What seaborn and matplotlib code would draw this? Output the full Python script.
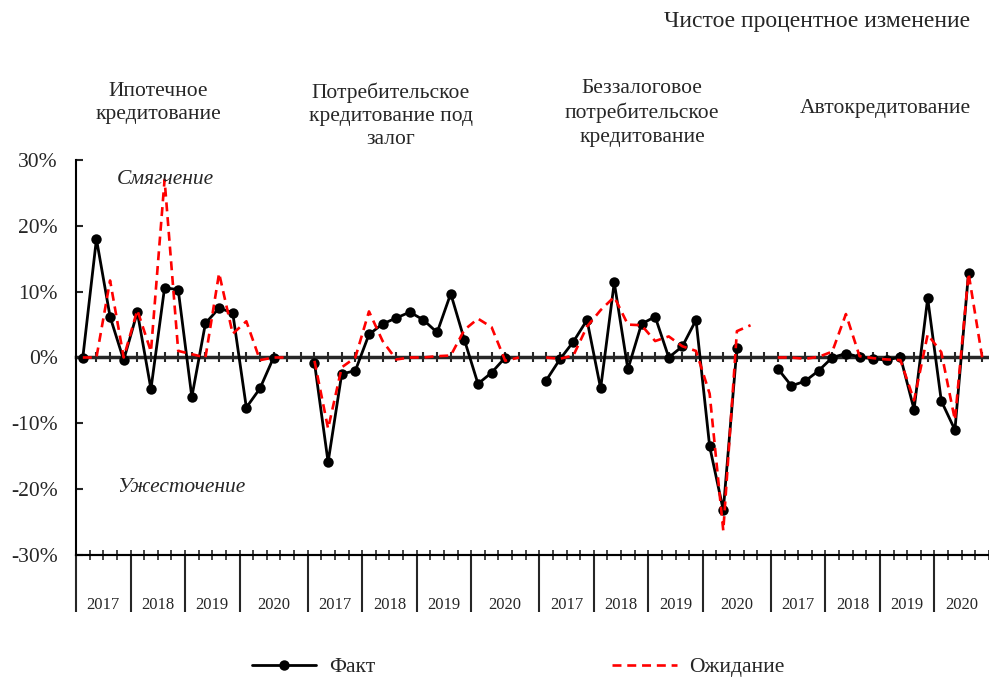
import numpy as np
import matplotlib
matplotlib.use("Agg")
import matplotlib.pyplot as plt
import seaborn as sns

# Заголовки блоков и годы
groups = ["Ипотечное\nкредитование",
          "Потребительское\nкредитование под\nзалог",
          "Беззалоговое\nпотребительское\nкредитование",
          "Автокредитование"]
years = ["2017", "2018", "2019", "2020"]

# Факт: 2017 К1 - 2020 К3, ожидание: 2017 К1 - 2020 К4 (в %)
mortgage_fact = [0, 18, 6.2, -0.4, 6.9, -4.8, 10.6, 10.3, -6.0, 5.2, 7.5, 6.8, -7.6, -4.7, 0]
mortgage_exp = [0, 0, 11.7, 0, 7.2, 0.9, 27, 1.0, 0.5, 0, 12.8, 3.6, 5.5, -0.4, 0, 0]
secured_fact = [-0.8, -15.9, -2.5, -2.0, 3.5, 5.1, 6.0, 6.9, 5.7, 3.8, 9.7, 2.7, -4.0, -2.3, 0]
secured_exp = [-0.5, -10.8, -1.5, 0, 7.0, 2.5, -0.3, 0, 0, 0.2, 0.3, 4.2, 5.9, 4.6, -0.5, 0]
unsecured_fact = [-3.5, -0.3, 2.4, 5.7, -4.7, 11.4, -1.8, 5.1, 6.2, 0, 1.7, 5.7, -13.5, -23.2, 1.4]
unsecured_exp = [0, -0.2, 0.3, 4.7, 7.2, 9.2, 5.0, 4.9, 2.5, 3.2, 1.7, 1.0, -5.5, -26.3, 4.0, 4.9]
auto_fact = [-1.7, -4.3, -3.6, -2.0, 0, 0.6, 0.1, -0.2, -0.4, 0.1, -7.9, 9.0, -6.6, -11.0, 12.9]
auto_exp = [0, 0, -0.2, 0.1, 0.9, 6.6, 0.2, -0.1, -0.3, -0.4, -6.5, 3.5, 0.8, -9.5, 12.8, 0]

fact = [mortgage_fact, secured_fact, unsecured_fact, auto_fact]
expect = [mortgage_exp, secured_exp, unsecured_exp, auto_exp]

sns.set_style("white")
plt.rcParams["font.family"] = ["Liberation Serif", "DejaVu Serif"]
fs = 15.5

W, H = 989, 678
fig = plt.figure(figsize=(W / 100, H / 100), dpi=100)
ax = fig.add_axes([76 / W, 1 - 555 / H, 1 - 76 / W, (555 - 160) / H])

step = 17  # 16 кварталов + пустой промежуток
for g in range(4):
    start = g * step
    sns.lineplot(x=start + np.arange(len(fact[g])), y=fact[g], ax=ax, color="black",
                 lw=2, marker="o", markersize=7.5, markeredgewidth=0,
                 label="Факт" if g == 0 else None, legend=False, zorder=3)
for g in range(4):
    start = g * step
    sns.lineplot(x=start + np.arange(len(expect[g])), y=expect[g], ax=ax, color="red",
                 lw=1.9, linestyle=(0, (3.4, 2.2)),
                 label="Ожидание" if g == 0 else None, legend=False, zorder=4)

n_slots = 3 * step + 16
ax.set_xlim(-0.5, n_slots - 0.5)
ax.set_ylim(-30, 30)
ax.set_xlabel("")
ax.set_ylabel("")
sns.despine(ax=ax, top=True, right=True)
for s in ["left", "bottom"]:
    ax.spines[s].set_linewidth(1.5)
    ax.spines[s].set_color("black")

yticks = [-30, -20, -10, 0, 10, 20, 30]
ax.set_yticks(yticks, labels=[f"{t}%" for t in yticks])
ax.tick_params(axis="y", direction="in", length=5, width=1.5, pad=13,
               labelsize=fs, left=True)

# годы и разделители
seps, centers, labels = [], [], []
for g in range(4):
    start = g * step
    edges = [start - 0.5, start + 3.5, start + 7.5, start + 11.5,
             start + (16.5 if g < 3 else 15.5)]
    seps += edges[:-1]
    for i in range(4):
        centers.append((edges[i] + edges[i + 1]) / 2)
        labels.append(years[i])
ax.set_xticks(centers, labels=labels)
ax.set_xticks(seps, minor=True)
ax.tick_params(axis="x", which="major", length=0, pad=30, labelsize=12)
ax.tick_params(axis="x", which="minor", direction="out", length=41, width=1.5,
               bottom=True)

# мелкие деления на нижней оси
bot = ax.secondary_xaxis("bottom")
bot.set_xticks(np.arange(n_slots + 1) - 0.5, labels=[])
bot.tick_params(direction="inout", length=7, width=1.2)
for sp in bot.spines.values():
    sp.set_linewidth(1.5)

# нулевая линия с делениями
zero = ax.secondary_xaxis(0.5)
zero.set_xticks(np.arange(n_slots), labels=[])
zero.tick_params(direction="inout", length=7, width=1.5)
for sp in zero.spines.values():
    sp.set_linewidth(2.5)

# подписи
fig.text(970 / W, 1 - 22 / H, "Чистое процентное изменение", ha="right",
         va="center", fontsize=17)
for txt, x, y in zip(groups, [158, 391, 642, 885], [103, 116, 113, 108]):
    fig.text(x / W, 1 - y / H, txt, ha="center", va="center", fontsize=fs,
             linespacing=1.3, multialignment="center")
fig.text(117 / W, 1 - 180 / H, "Смягчение", ha="left", va="center",
         fontsize=fs, style="italic")
fig.text(117 / W, 1 - 488 / H, "Ужесточение", ha="left", va="center",
         fontsize=fs, style="italic")

handles, names = ax.get_legend_handles_labels()
fig.legend(handles, names, loc="center", bbox_to_anchor=(0.524, 0.016), ncol=2,
           frameon=False, fontsize=fs, handlelength=3, handletextpad=0.6,
           columnspacing=11)

fig.savefig("out.png", dpi=100)
